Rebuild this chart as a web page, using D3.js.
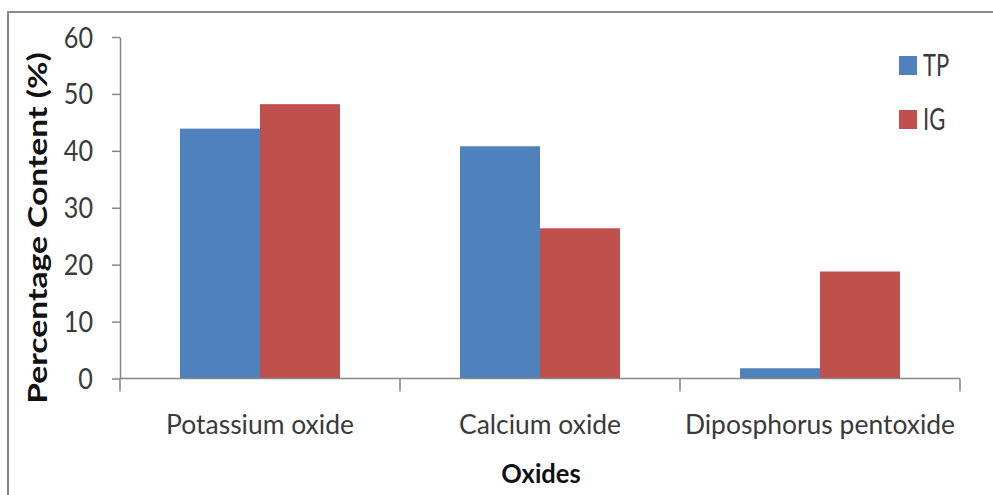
<!DOCTYPE html>
<html>
<head>
<meta charset="utf-8">
<script src="https://cdn.jsdelivr.net/npm/d3@7"></script>
<style>
  html, body { margin: 0; padding: 0; background: #fff; }
  svg { display: block; }
  text { font-family: Lato, "Open Sans", sans-serif; }
</style>
</head>
<body>
<svg id="chart" width="993" height="495"></svg>
<script>
// Oxide composition of the two samples
const categories = ["Potassium oxide", "Calcium oxide", "Diposphorus pentoxide"];
const seriesNames = ["TP", "IG"];
const tpValues = [43.9, 40.8, 1.8];
const igValues = [48.2, 26.4, 18.8];
const yTicks = [0, 10, 20, 30, 40, 50, 60];

const colors = { TP: "#4F81BD", IG: "#C0504D" };
const values = { TP: tpValues, IG: igValues };

const rows = categories.map((c, i) => ({
  category: c,
  bars: seriesNames.map(s => ({ series: s, value: values[s][i] }))
}));

const svg = d3.select("#chart");
const plot = { left: 120, right: 960, top: 37, bottom: 378.5 };

// Outer chart border (only top and left edges fall inside the view)
svg.append("path")
  .attr("d", "M8,495 L8,12 L993,12")
  .attr("fill", "none")
  .attr("stroke", "#8a8a8a")
  .attr("stroke-width", 2);

const x0 = d3.scaleBand()
  .domain(categories)
  .range([plot.left, plot.right])
  .paddingInner(0)
  .paddingOuter(0);

const x1 = d3.scaleBand()
  .domain(seriesNames)
  .range([0, x0.bandwidth()])
  .paddingInner(0)
  .paddingOuter(0.75);

const y = d3.scaleLinear()
  .domain([0, 60])
  .range([plot.bottom, plot.top]);

// Bars
const groups = svg.append("g").selectAll("g")
  .data(rows)
  .join("g")
  .attr("transform", d => `translate(${x0(d.category)},0)`);

groups.selectAll("rect")
  .data(d => d.bars)
  .join("rect")
  .attr("x", d => x1(d.series))
  .attr("width", x1.bandwidth())
  .attr("y", d => y(d.value))
  .attr("height", d => y(0) - y(d.value))
  .attr("fill", d => colors[d.series]);

const axisColor = "#868686";
const textColor = "#3a3a3a";

// Y axis
const yAxis = svg.append("g")
  .attr("transform", `translate(${plot.left},0)`)
  .call(d3.axisLeft(y).tickValues(yTicks).tickSize(8).tickSizeOuter(0).tickFormat(d3.format("d")));
yAxis.select(".domain").attr("stroke", axisColor).attr("stroke-width", 1.5);
yAxis.selectAll(".tick line").attr("stroke", axisColor).attr("stroke-width", 1.5);
yAxis.selectAll(".tick text").remove();
yAxis.selectAll(".tick").append("text")
  .attr("transform", "translate(-27,10) scale(0.9,1.05)")
  .attr("text-anchor", "end")
  .attr("fill", textColor)
  .attr("font-size", 28)
  .text(d => d);

// X axis: line plus tick marks on category boundaries
const xAxis = svg.append("g");
xAxis.append("line")
  .attr("x1", plot.left).attr("x2", plot.right)
  .attr("y1", y(0)).attr("y2", y(0))
  .attr("stroke", axisColor).attr("stroke-width", 1.5);
const boundaries = categories.map(c => x0(c)).concat([x0(categories[categories.length - 1]) + x0.bandwidth()]);
xAxis.selectAll(".bound")
  .data(boundaries)
  .join("line")
  .attr("class", "bound")
  .attr("x1", d => d).attr("x2", d => d)
  .attr("y1", y(0)).attr("y2", y(0) + 13)
  .attr("stroke", axisColor).attr("stroke-width", 1.5);

xAxis.selectAll(".cat")
  .data(categories)
  .join("text")
  .attr("class", "cat")
  .attr("transform", d => `translate(${x0(d) + x0.bandwidth() / 2},434) scale(0.98,1.02)`)
  .attr("text-anchor", "middle")
  .attr("fill", textColor)
  .attr("font-size", 27)
  .text(d => d);

// Axis titles
svg.append("text")
  .attr("transform", "translate(541,483) scale(1.0,1.02)")
  .attr("text-anchor", "middle")
  .attr("font-weight", "bold")
  .attr("font-size", 25.5)
  .attr("fill", "#111")
  .text("Oxides");

svg.append("text")
  .attr("transform", "translate(47,228) rotate(-90) scale(1.27,1)")
  .attr("text-anchor", "middle")
  .attr("font-weight", "bold")
  .attr("font-size", 26.5)
  .attr("fill", "#111")
  .text("Percentage Content (%)");

// Legend
const legend = svg.append("g").selectAll("g")
  .data(seriesNames)
  .join("g")
  .attr("transform", (d, i) => `translate(899,${56 + i * 54})`);
legend.append("rect")
  .attr("width", 18).attr("height", 19)
  .attr("fill", d => colors[d]);
legend.append("text")
  .attr("transform", "translate(24,20) scale(0.72,1.03)")
  .attr("fill", textColor)
  .attr("font-size", 30.5)
  .text(d => d);
</script>
</body>
</html>
